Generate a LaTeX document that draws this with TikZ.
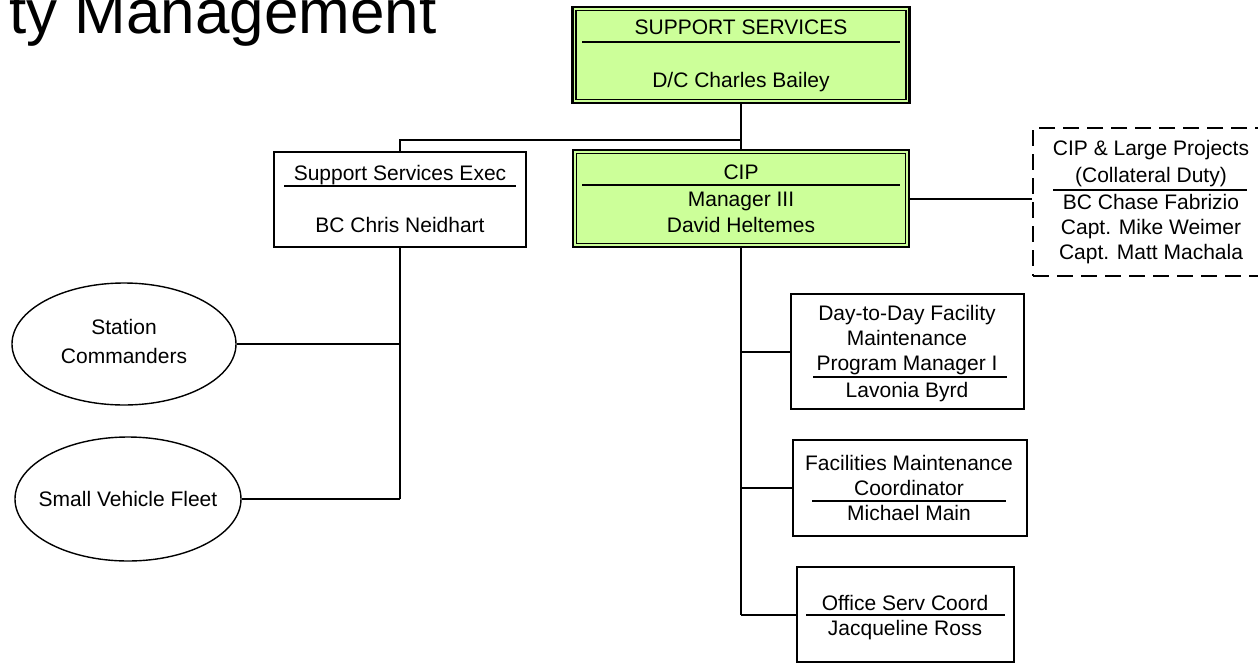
\documentclass[tikz,border=0pt]{standalone}
\usepackage{fontspec}
\setmainfont{Liberation Sans}
\usetikzlibrary{shapes.geometric,calc}
\definecolor{boxgreen}{HTML}{CCFF99}
\tikzset{
  plainbox/.style={draw=black,line width=1.6pt,fill=white,rectangle,inner sep=0pt},
  greenbox/.style={draw=black,line width=2.6pt,fill=boxgreen,rectangle,inner sep=0pt},
  dashbox/.style={draw=black,line width=1.5pt,dash pattern=on 16pt off 8pt,rectangle,inner sep=0pt},
  ellbox/.style={draw=black,line width=1.4pt,ellipse,inner sep=0pt},
  conn/.style={draw=black,line width=2pt},
  divline/.style={draw=black,line width=1.4pt},
  innerline/.style={draw=black,line width=1.5pt},
  lbl/.style={anchor=base,inner sep=0pt,font=\fontsize{21}{25}\selectfont},
}
\begin{document}
\begin{tikzpicture}[x=1pt,y=-1pt]
\useasboundingbox (0,0) rectangle (1258,664);
\fill[white] (0,0) rectangle (1258,664);

% title (cut by page edge, as in the reference)
\node[anchor=base east,inner sep=0pt,font=\fontsize{62}{64}\selectfont] (title) at (437,33) {ty Management};

% boxes
\node[greenbox,minimum width=337pt,minimum height=96pt] (ss) at (741,55) {};
\draw[innerline] ([shift={(5,5)}]ss.north west) rectangle ([shift={(-5,-5)}]ss.south east);
\node[greenbox,minimum width=336pt,minimum height=97pt] (cip) at (741,198.5) {};
\draw[innerline] ([shift={(5,5)}]cip.north west) rectangle ([shift={(-5,-5)}]cip.south east);
\node[plainbox,minimum width=252pt,minimum height=95pt] (exec) at (400,199.5) {};
\node[dashbox,minimum width=237pt,minimum height=148pt] (coll) at (1151.5,202) {};
\node[plainbox,minimum width=233pt,minimum height=115pt] (d1) at (907.5,351.5) {};
\node[plainbox,minimum width=234pt,minimum height=96pt] (d2) at (910,488) {};
\node[plainbox,minimum width=217pt,minimum height=95pt] (d3) at (905.5,614.5) {};
\node[ellbox,minimum width=224pt,minimum height=122pt] (e1) at (124,344) {};
\node[ellbox,minimum width=226pt,minimum height=124pt] (e2) at (128,499) {};

% connectors
\coordinate (j1) at ($(ss.south)+(0,36)$);
\draw[conn] (ss.south) -- (cip.north);
\draw[conn] (j1) -| (exec.north);
\draw[conn] (cip.east) -- (cip.east -| coll.west);
\draw[conn] (exec.south) -- (exec.south |- e2.east);
\draw[conn] (e1.east) -- (e1.east -| exec.south);
\draw[conn] (e2.east) -- (e2.east -| exec.south);
\draw[conn] (cip.south) -- (cip.south |- d3.west);
\draw[conn] (d1.west) -- (d1.west -| cip.south);
\draw[conn] (d2.west) -- (d2.west -| cip.south);
\draw[conn] (d3.west) -- (d3.west -| cip.south);

% dividers
\draw[divline] (582,42) -- (900,42);
\draw[divline] (582,185) -- (900,185);
\draw[divline] (284,186) -- (516,186);
\draw[divline] (1053,190) -- (1247,190);
\draw[divline] (813,377) -- (1007,377);
\draw[divline] (812,501) -- (1006,501);
\draw[divline] (806,615) -- (1005,615);

% texts
\node[lbl] (t1) at (741,34) {SUPPORT SERVICES};
\node[lbl] (t2) at (741,87) {D/C Charles Bailey};
\node[lbl] (t3) at (741,179) {CIP};
\node[lbl] (t4) at (741,206) {Manager III};
\node[lbl] (t5) at (741,232) {David Heltemes};
\node[lbl] (t6) at (400,180) {Support Services Exec};
\node[lbl] (t7) at (400,232) {BC Chris Neidhart};
\node[lbl] (t8) at (1151,155) {CIP \& Large Projects};
\node[lbl] (t9) at (1151,182) {(Collateral Duty)};
\node[lbl] (t10) at (1151,209) {BC Chase Fabrizio};
\node[lbl] (t11) at (1151,234) {Capt. Mike Weimer};
\node[lbl] (t12) at (1151,259) {Capt. Matt Machala};
\node[lbl] (t13) at (907,320) {Day-to-Day Facility};
\node[lbl] (t14) at (907,345) {Maintenance};
\node[lbl] (t15) at (907,370) {Program Manager I};
\node[lbl] (t16) at (907,397) {Lavonia Byrd};
\node[lbl] (t17) at (909,470) {Facilities Maintenance};
\node[lbl] (t18) at (909,495) {Coordinator};
\node[lbl] (t19) at (909,520) {Michael Main};
\node[lbl] (t20) at (905,610) {Office Serv Coord};
\node[lbl] (t21) at (905,635) {Jacqueline Ross};
\node[lbl] (t22) at (124,334) {Station};
\node[lbl] (t23) at (124,363) {Commanders};
\node[lbl] (t24) at (128,506) {Small Vehicle Fleet};
\end{tikzpicture}
\end{document}
